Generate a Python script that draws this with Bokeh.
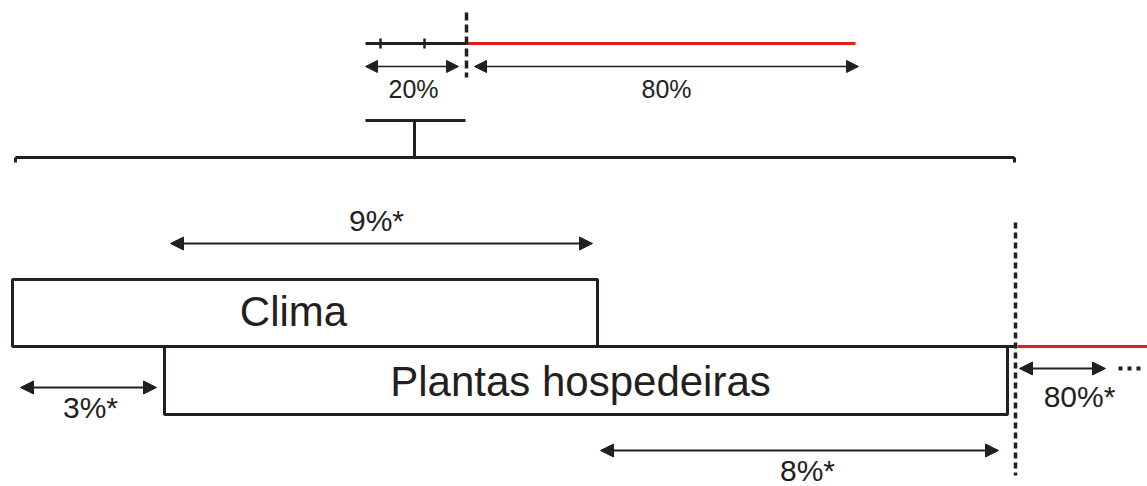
from bokeh.plotting import figure
from bokeh.models import Range1d, Arrow, NormalHead, ColumnDataSource
from bokeh.core.properties import value
from bokeh.embed import file_html
from bokeh.resources import INLINE

FONT = "Liberation Sans"

# ---- layout data (pixel-space schematic) ----
# top scale bar
top_black_x = [365, 466]
top_y = 43
top_ticks_x = [380, 424]
top_red_x = [466, 855]
top_dash_x = 466
top_dash_y = [12, 77]
top_arrows = [(365, 458), (474, 858)]
top_arrow_y = 66
top_labels = ["20%", "80%"]
top_label_x = [413, 666]
top_label_y = 88

# T connector and long bracket line
t_bar_x = [365, 465]
t_bar_y = 120
t_stem_x = 414
long_x = [15, 1014]
long_y = 157

# boxes
box_names = ["Clima", "Plantas hospedeiras"]
box_left = [12, 164]
box_right = [597, 1007]
box_top = [279, 346]
box_bottom = [346, 414]
box_label_x = [293, 580]
box_label_y = [311, 381]

# percentage arrows
pct_labels = ["9%*", "3%*", "8%*", "80%*"]
pct_x0 = [170, 20, 600, 1019]
pct_x1 = [592, 156, 998, 1105]
pct_y = [243, 387, 450, 368]
pct_label_x = [376, 90, 807, 1079]
pct_label_y = [220, 407, 470, 396]

# right dashed line & red continuation
right_dash_x = 1015
right_dash_y = [222, 475]
right_red_x = [1017, 1150]
right_red_y = 346
dots_x = [1120, 1129, 1138]

W, H = 1147, 486
p = figure(width=W, height=H, x_range=Range1d(0, W), y_range=Range1d(H, 0),
           output_backend="svg", toolbar_location=None, min_border=0)
p.axis.visible = False
p.grid.visible = False
p.outline_line_color = None
p.background_fill_color = "white"
p.border_fill_color = "white"

BLACK = "#231f20"
RED = "#e0201b"

# top bar
p.line(top_black_x, [top_y, top_y], line_color=BLACK, line_width=3)
p.segment(x0=top_ticks_x, y0=[top_y - 5] * 2, x1=top_ticks_x, y1=[top_y + 5] * 2,
          line_color=BLACK, line_width=2.5)
p.line(top_red_x, [top_y, top_y], line_color=RED, line_width=3)
p.line([top_dash_x, top_dash_x], top_dash_y, line_color=BLACK, line_width=3.5, line_dash="8 4")
for (a, b) in top_arrows:
    p.add_layout(Arrow(start=NormalHead(size=12, fill_color=BLACK, line_color=BLACK),
                       end=NormalHead(size=12, fill_color=BLACK, line_color=BLACK),
                       x_start=a, y_start=top_arrow_y, x_end=b, y_end=top_arrow_y,
                       line_color=BLACK, line_width=1.5))
p.text(x=top_label_x, y=[top_label_y] * 2, text=top_labels, text_font=value(FONT),
       text_font_size="25px", text_align="center", text_baseline="middle", text_color=BLACK)

# T connector
p.line(t_bar_x, [t_bar_y, t_bar_y], line_color=BLACK, line_width=3)
p.line([t_stem_x, t_stem_x], [t_bar_y, long_y], line_color=BLACK, line_width=3)
p.line(long_x, [long_y, long_y], line_color=BLACK, line_width=3)
p.segment(x0=long_x, y0=[long_y] * 2, x1=long_x, y1=[long_y + 5] * 2,
          line_color=BLACK, line_width=3)

# boxes
src = ColumnDataSource(dict(left=box_left, right=box_right, top=box_top, bottom=box_bottom))
p.quad(left="left", right="right", top="top", bottom="bottom", source=src,
       fill_color="white", line_color=BLACK, line_width=3)
p.line([box_right[1], right_dash_x], [box_top[1], box_top[1]], line_color=BLACK, line_width=3)
p.text(x=box_label_x, y=box_label_y, text=box_names, text_font=value(FONT),
       text_font_size="42px", text_align="center", text_baseline="middle", text_color=BLACK)

# pct arrows
for a, b, y in zip(pct_x0, pct_x1, pct_y):
    p.add_layout(Arrow(start=NormalHead(size=13, fill_color=BLACK, line_color=BLACK),
                       end=NormalHead(size=13, fill_color=BLACK, line_color=BLACK),
                       x_start=a, y_start=y, x_end=b, y_end=y,
                       line_color=BLACK, line_width=2))
p.text(x=pct_label_x, y=pct_label_y, text=pct_labels, text_font=value(FONT),
       text_font_size="30px", text_align="center", text_baseline="middle", text_color=BLACK)

# right dashed line, red line, dots
p.line(right_red_x, [right_red_y, right_red_y], line_color=RED, line_width=3)
p.line([right_dash_x, right_dash_x], right_dash_y, line_color=BLACK, line_width=3.5, line_dash="6 4")
p.rect(x=dots_x, y=[pct_y[3]] * 3, width=4, height=4, fill_color=BLACK, line_color=None)

open("out.html", "w").write(file_html(p, INLINE))
